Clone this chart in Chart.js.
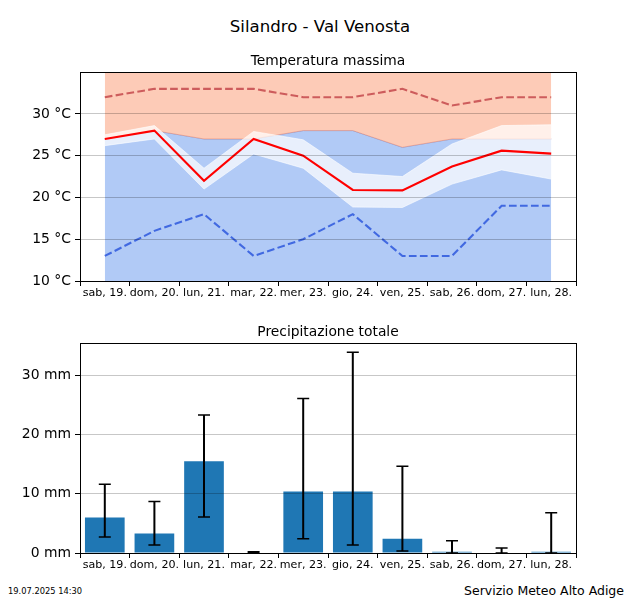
<!DOCTYPE html>
<html><head><meta charset="utf-8">
<style>
html,body{margin:0;padding:0;background:#fff;width:640px;height:600px;overflow:hidden}
canvas{position:absolute;left:0;display:block}
div{position:absolute;font-family:"DejaVu Sans";color:#000;white-space:nowrap}
</style>
<script src="https://cdn.jsdelivr.net/npm/chart.js@4"></script>
</head><body>
<div id="t" style="left:0;width:640px;text-align:center;top:17px;font-size:16.6px;line-height:20px">Silandro - Val Venosta</div>
<canvas id="c1" width="640" height="311" style="top:0"></canvas>
<canvas id="c2" width="640" height="272" style="top:311px"></canvas>
<div style="left:8px;top:586px;font-size:8.3px;line-height:10px">19.07.2025 14:30</div>
<div style="right:16px;top:583px;font-size:12.5px;line-height:15px">Servizio Meteo Alto Adige</div>
<script>
const days = ["sab, 19.","dom, 20.","lun, 21.","mar, 22.","mer, 23.","gio, 24.","ven, 25.","sab, 26.","dom, 27.","lun, 28."];
const tempMain = [27,28,22,27,25,20.9,20.85,23.7,25.6,25.25];
const tempBandHigh = [27.5,28.6,23.5,27.9,26.9,22.9,22.5,26.4,28.6,28.7];
const tempBandLow = [26.2,27,21,25.2,23.5,18.85,18.8,21.6,23.3,22.2];
const tempRecordMax = [32,33,33,33,32,32,33,31,32,32];
const tempRecordMin = [13,16,18,13,15,18,13,13,19,19];
const tempClimate = [27,28,27,27,28,28,26,27,27,27];
const rain = [6,3.3,15.5,0.1,10.4,10.4,2.4,0.2,0,0.2];
const rainLow = [2.7,1.35,6.1,0,2.4,1.35,0.35,0,0,0];
const rainHigh = [11.6,8.7,23.3,0.2,26.1,33.9,14.65,2.05,0.85,6.8];

const FONT = "DejaVu Sans";
Chart.defaults.font.family = FONT;
Chart.defaults.color = "#000";
Chart.defaults.animation = false;

const frame = {id:"frame", afterDraw(ch){
  const a = ch.chartArea, c = ch.ctx;
  c.save(); c.strokeStyle="#000"; c.lineWidth=1;
  c.strokeRect(Math.round(a.left)+.5, Math.round(a.top)+.5, Math.round(a.right-a.left), Math.round(a.bottom-a.top));
  c.restore();
}};
const errorBars = {id:"errorBars", afterDatasetsDraw(ch){
  const x=ch.scales.x, y=ch.scales.y, c=ch.ctx;
  c.save(); c.strokeStyle="#000"; c.beginPath();
  rain.forEach((_,i)=>{
    const px=x.getPixelForValue(i), a=y.getPixelForValue(rainLow[i]), b=y.getPixelForValue(rainHigh[i]);
    c.moveTo(px,a); c.lineTo(px,b);
  });
  c.lineWidth=2; c.stroke();
  c.beginPath();
  rain.forEach((_,i)=>{
    const px=x.getPixelForValue(i);
    [rainLow[i],rainHigh[i]].forEach(v=>{const p=y.getPixelForValue(v); c.moveTo(px-6,p); c.lineTo(px+6,p);});
  });
  c.lineWidth=1.5; c.stroke();
  c.restore();
}};

function scales(stepSize,min,max,unit,limit){
  return {
    x:{type:"category",labels:days,offset:true,
       grid:{offset:true,drawOnChartArea:false,drawTicks:true,tickLength:5,tickColor:"#000",tickWidth:1},
       border:{display:false},
       ticks:{font:{size:11.1,family:FONT},color:"#000",maxRotation:0,minRotation:0,autoSkip:false,padding:0},
       afterFit(s){s.height=30;}},
    y:{min,max,
       afterBuildTicks(s){s.ticks=s.ticks.filter(t=>t.value<=limit);},
       grid:{color:"rgba(0,0,0,0.22)",lineWidth:1,z:1,tickLength:5,tickColor:"#000",drawTicks:true},
       border:{display:false},
       ticks:{stepSize,font:{size:13.9,family:FONT},color:"#000",padding:4,callback:v=>v+" "+unit},
       afterFit(s){s.width=80;}}
  };
}
function title(text,top,bottom){
  return {display:true,fullSize:false,text,color:"#000",font:{size:13.85,family:FONT,weight:"normal"},padding:{top,bottom}};
}
const line=(data,color,w,dash)=>({type:"line",data,borderColor:color,borderWidth:w,borderDash:dash||[],pointRadius:0,tension:0,fill:false,borderCapStyle:"butt",borderJoinStyle:"miter"});

new Chart(document.getElementById("c1"),{
  type:"line",
  data:{labels:days,datasets:[
    {...line(tempClimate,"rgba(100,149,237,0.55)",1),fill:"start",backgroundColor:"rgba(100,149,237,0.5)",order:6},
    {...line(tempClimate,"rgba(233,120,90,0.45)",1),fill:"end",backgroundColor:"rgba(253,203,183,1)",order:5},
    {...line(tempBandLow,"rgba(255,255,255,0.6)",1),order:4},
    {...line(tempBandHigh,"rgba(255,255,255,0.6)",1),fill:"-1",backgroundColor:"rgba(255,255,255,0.7)",order:3},
    {...line(tempRecordMax,"#cd5c5c",2.1,[7.7,3.3]),order:2},
    {...line(tempRecordMin,"#4169e1",2.1,[7.7,3.3]),order:2},
    {...line(tempMain,"#ff0000",2.1),order:1}
  ]},
  options:{responsive:false,devicePixelRatio:1,maintainAspectRatio:false,
    layout:{padding:{left:0,right:64,top:0,bottom:0}},
    plugins:{legend:{display:false},tooltip:{enabled:false},
      title:title("Temperatura massima",53,2.5)},
    scales:scales(5,10,35,"°C",30)},
  plugins:[frame]
});
new Chart(document.getElementById("c2"),{
  type:"bar",
  data:{labels:days,datasets:[{data:rain,backgroundColor:"#1f77b4",barPercentage:0.8,categoryPercentage:1}]},
  options:{responsive:false,devicePixelRatio:1,maintainAspectRatio:false,
    layout:{padding:{left:0,right:64,top:0,bottom:0}},
    plugins:{legend:{display:false},tooltip:{enabled:false},
      title:title("Precipitazione totale",12.7,2.5)},
    scales:scales(10,0,35.5,"mm",30)},
  plugins:[errorBars,frame]
});
</script>
</body></html>
